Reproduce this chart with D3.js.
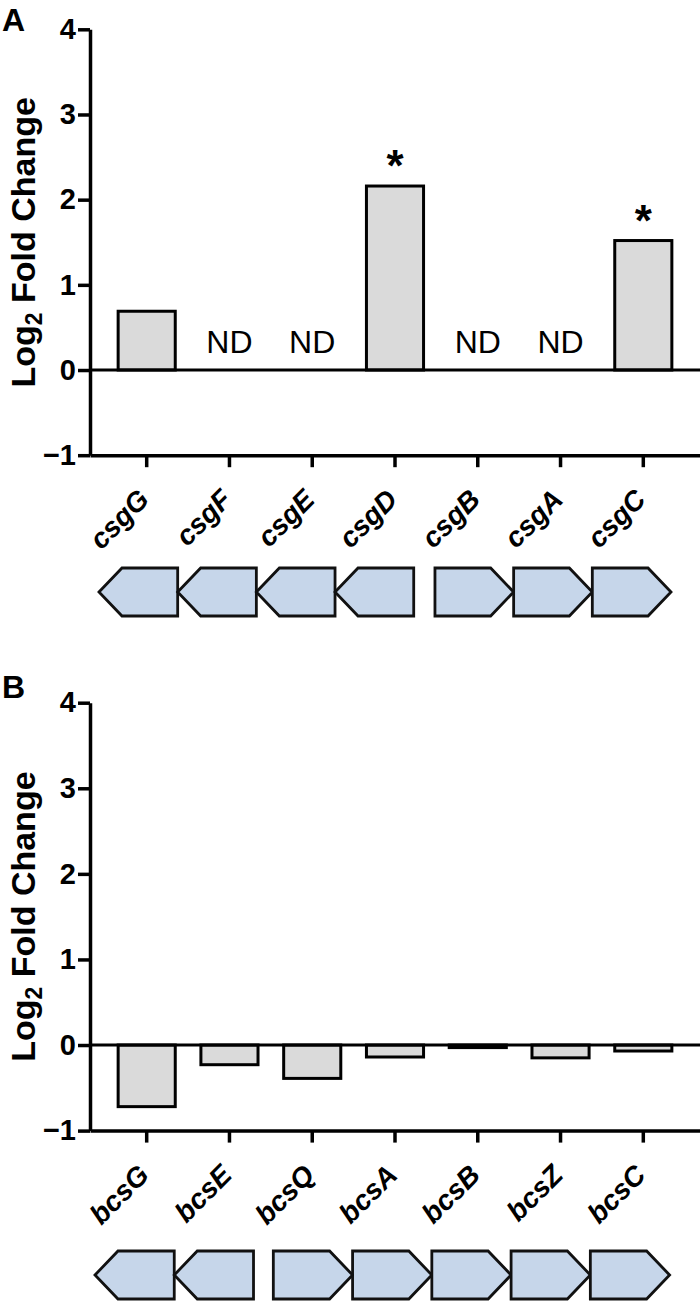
<!DOCTYPE html>
<html><head><meta charset="utf-8">
<script src="https://cdn.jsdelivr.net/npm/d3@7"></script>
<style>
body{margin:0;background:#fff}
svg{display:block}
text{font-family:"Liberation Sans",Arial,Helvetica,sans-serif}
</style>
</head><body>
<svg id="chart" width="700" height="1303"></svg>
<script>
// ---------- data ----------
const csgGenes = ["csgG", "csgF", "csgE", "csgD", "csgB", "csgA", "csgC"];
const csgValues = [0.69, null, null, 2.16, null, null, 1.52];   // null = ND
const csgSignificant = [false, false, false, true, false, false, true];
const csgStrand = [-1, -1, -1, -1, 1, 1, 1];
const csgOperonBreakAfter = 3;

const bcsGenes = ["bcsG", "bcsE", "bcsQ", "bcsA", "bcsB", "bcsZ", "bcsC"];
const bcsValues = [-0.72, -0.23, -0.39, -0.14, -0.03, -0.15, -0.07];
const bcsSignificant = [false, false, false, false, false, false, false];
const bcsStrand = [-1, -1, 1, 1, 1, 1, 1];
const bcsOperonBreakAfter = 1;

const yTicks = [-1, 0, 1, 2, 3, 4];
const yDomain = [-1, 4];
const ndText = "ND";
const sigText = "*";

// ---------- drawing ----------
const svg = d3.select("#chart");
const BAR_FILL = "#dadada";
const GENE_FILL = "#c6d6ea";
const FONT = '"Liberation Sans",Arial,Helvetica,sans-serif';

function drawPanel(cfg) {
  const g = svg.append("g");
  const x = d3.scaleBand().domain(cfg.genes).range([90, 700])
    .paddingInner(0.31).paddingOuter(0.34);
  const y = d3.scaleLinear().domain(yDomain).range([cfg.yBottom, cfg.yTop]);
  const cx = k => x(k) + x.bandwidth() / 2;

  // panel letter
  g.append("text").attr("x", 2).attr("y", cfg.letterY)
    .attr("font-size", 32).attr("font-weight", "bold").text(cfg.letter);

  // y label
  const lab = g.append("text")
    .attr("transform", `translate(35,${(y(yDomain[0]) + y(yDomain[1])) / 2}) rotate(-90)`)
    .attr("text-anchor", "middle").attr("font-size", 34).attr("font-weight", "bold");
  lab.append("tspan").text("Log");
  lab.append("tspan").attr("font-size", 23).attr("dy", 7).text("2");
  lab.append("tspan").attr("dy", -7).text(" Fold Change");

  // bars
  const data = cfg.genes.map((k, i) => ({gene: k, v: cfg.values[i], sig: cfg.sig[i]}));
  g.selectAll("rect.bar").data(data.filter(d => d.v !== null)).join("rect")
    .attr("class", "bar")
    .attr("x", d => x(d.gene)).attr("width", x.bandwidth())
    .attr("y", d => Math.min(y(d.v), y(0)))
    .attr("height", d => Math.abs(y(d.v) - y(0)))
    .attr("fill", BAR_FILL).attr("stroke", "#000").attr("stroke-width", 3);

  // zero line
  g.append("line").attr("x1", 90).attr("x2", 700).attr("y1", y(0)).attr("y2", y(0))
    .attr("stroke", "#000").attr("stroke-width", 3);

  // ND labels
  g.selectAll("text.nd").data(data.filter(d => d.v === null)).join("text")
    .attr("class", "nd")
    .attr("x", d => cx(d.gene)).attr("y", y(0) - 17)
    .attr("text-anchor", "middle").attr("font-size", 32).text(ndText);

  // significance
  g.selectAll("text.sig").data(data.filter(d => d.sig)).join("text")
    .attr("class", "sig")
    .attr("x", d => cx(d.gene)).attr("y", d => y(d.v) - 5)
    .attr("text-anchor", "middle").attr("font-size", 44).attr("font-weight", "bold").text(sigText);

  // y axis
  const ya = g.append("g").attr("transform", "translate(90,0)")
    .call(d3.axisLeft(y).tickValues(yTicks).tickSize(12).tickSizeOuter(0).tickPadding(2)
      .tickFormat(d3.format("d")));
  ya.select(".domain").attr("stroke", "#000").attr("stroke-width", 3.5);
  ya.selectAll(".tick line").attr("stroke", "#000").attr("stroke-width", 3.5);
  ya.selectAll(".tick text").attr("font-size", 29).attr("font-weight", "bold")
    .attr("font-family", FONT).attr("fill", "#000");

  // x axis at y = -1, with labels rotated 45°
  const axisY = y(yDomain[0]);
  const xa = g.append("g").attr("transform", `translate(0,${axisY})`)
    .call(d3.axisBottom(x).tickSize(12).tickSizeOuter(0));
  xa.select(".domain").attr("stroke", "#000").attr("stroke-width", 3.5);
  xa.selectAll(".tick line").attr("stroke", "#000").attr("stroke-width", 3.5);
  xa.selectAll(".tick text")
    .attr("x", 0).attr("y", 0).attr("dy", null)
    .attr("transform", "translate(4,46) rotate(-45)")
    .attr("text-anchor", "end")
    .attr("font-size", 28).attr("font-weight", "bold").attr("font-style", "italic")
    .attr("font-family", FONT).attr("fill", "#000");

  // gene arrows
  const n = cfg.genes.length;
  const unitPos = cfg.genes.map((k, i) => i + (i > cfg.breakAfter ? cfg.gap : 0));
  const ax = d3.scaleLinear().domain([0, n + cfg.gap]).range(cfg.arrowRange);
  const top = cfg.arrowTop, h = 48, tip = 23, mid = top + h / 2;
  g.selectAll("path.gene").data(cfg.genes).join("path")
    .attr("class", "gene")
    .attr("d", (k, i) => {
      const x0 = ax(unitPos[i]), x1 = ax(unitPos[i] + 1);
      if (cfg.strand[i] < 0) {
        return `M${x0},${mid}L${x0 + tip},${top}L${x1},${top}L${x1},${top + h}L${x0 + tip},${top + h}Z`;
      }
      return `M${x0},${top}L${x1 - tip},${top}L${x1},${mid}L${x1 - tip},${top + h}L${x0},${top + h}Z`;
    })
    .attr("fill", GENE_FILL).attr("stroke", "#111").attr("stroke-width", 2.8)
    .attr("stroke-linejoin", "miter");
}

drawPanel({letter: "A", letterY: 31, genes: csgGenes, values: csgValues, sig: csgSignificant,
  strand: csgStrand, breakAfter: csgOperonBreakAfter, gap: 0.27,
  yBottom: 455.2, yTop: 29.3, arrowTop: 568, arrowRange: [99, 671]});
drawPanel({letter: "B", letterY: 698, genes: bcsGenes, values: bcsValues, sig: bcsSignificant,
  strand: bcsStrand, breakAfter: bcsOperonBreakAfter, gap: 0.25,
  yBottom: 1130.6, yTop: 702.7, arrowTop: 1251, arrowRange: [95, 669.6]});
</script>
</body></html>
